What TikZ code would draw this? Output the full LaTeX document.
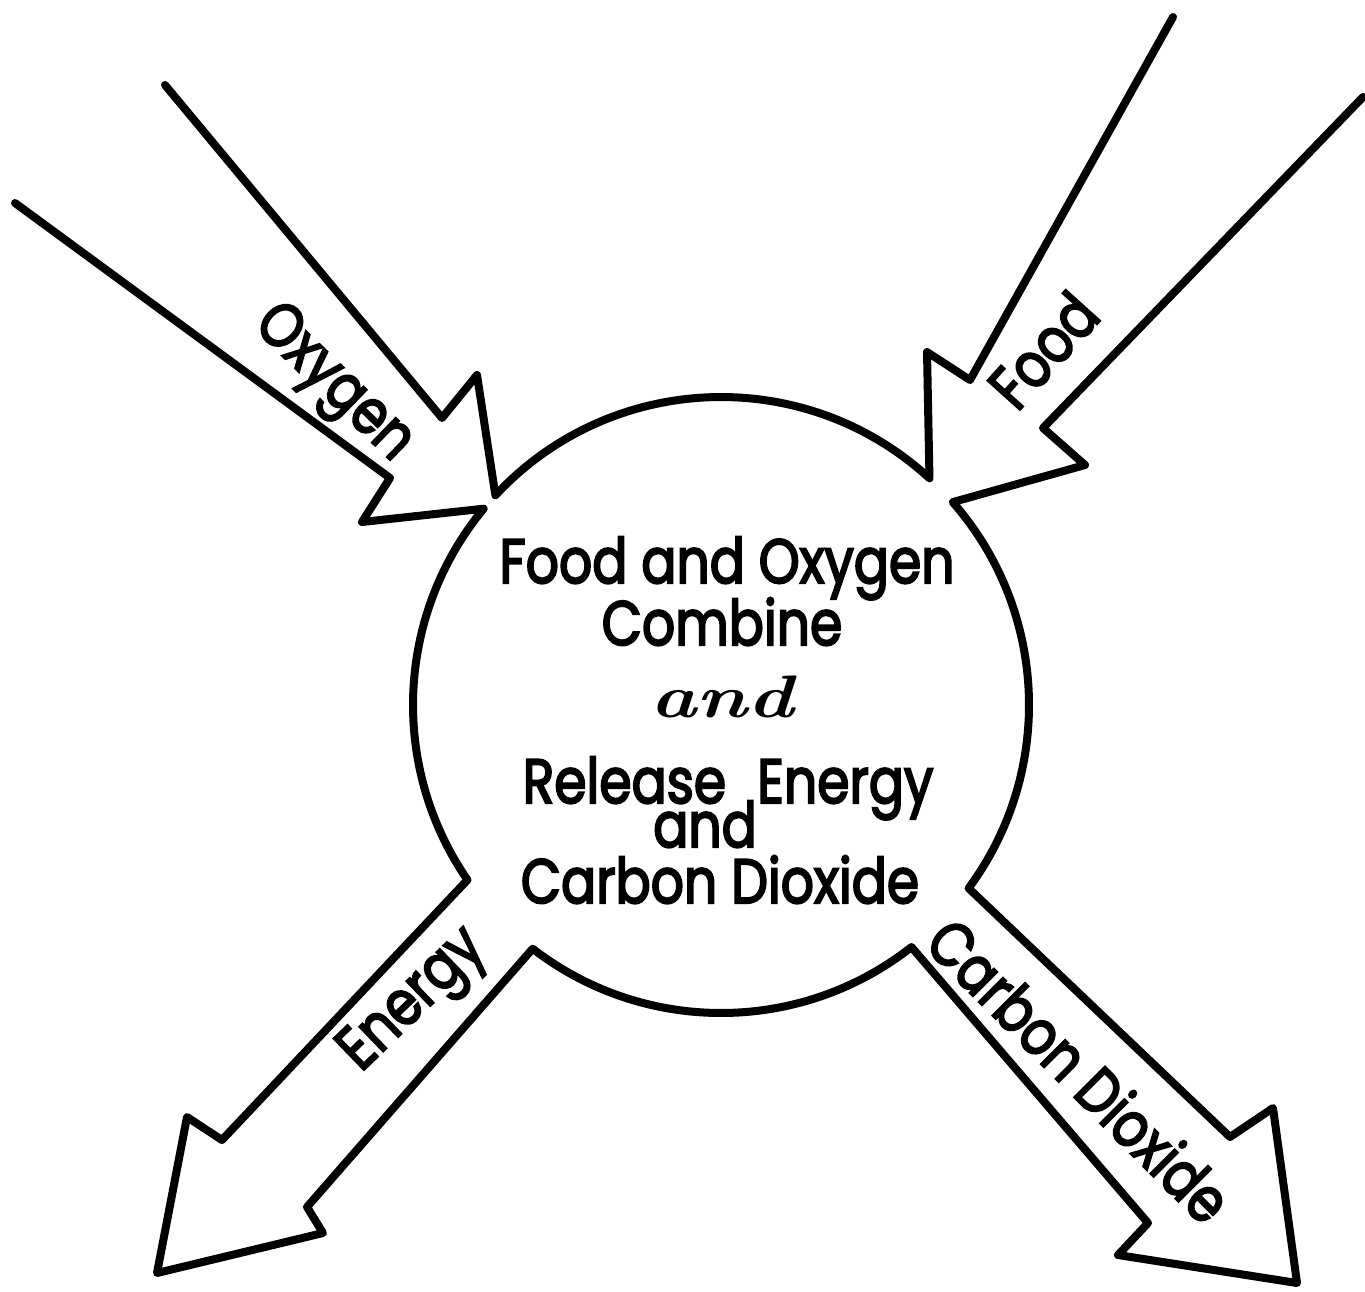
\documentclass[tikz,border=0pt]{standalone}
\usepackage{fontspec}
\usepackage{graphicx}
\usetikzlibrary{calc}
\newfontfamily\handfont{Poppins}[FakeBold=3.5]
\newcommand{\tallText}[1]{\scalebox{1}[1.2]{#1}}

\begin{document}
\begin{tikzpicture}
[x=0.5pt,y=-0.5pt,%
  outlineDecorate/.style={line width=4pt,line join=round,line cap=round},%
  textDecorate/.style={inner sep=0pt,font=\handfont\fontsize{26}{30}\selectfont},%
  scriptDecorate/.style={inner sep=0pt,font=\fontsize{30}{34}\selectfont\bfseries\itshape}]
\useasboundingbox (0,0) rectangle (1365,1291);
%% centre of the ring
\coordinate (ctr) at (721,705);
%% points where the arrows meet the ring
\foreach \pointname/\angle in {oxyTip/-137.1, oxyBase/-140.4, foodTip/-47.4, foodBase/-41.2,
  carbTop/36.5, carbBase/51.8, enBase/127.7, enTop/145.4}
{
  \coordinate (\pointname) at ($(ctr)+(\angle:308)$);
}
%% shaft ends, barbs and heads
\foreach \pointname/\x/\y in {oxyA/165/85, oxyB/442/418, oxyC/477/375,
  oxyD/15/203, oxyE/390/478, oxyF/362/522,
  foodA/1173/17, foodB/970/380, foodC/927/352,
  foodD/1363/97, foodE/1043/428, foodF/1085/465,
  carbB/1230/1137, carbC/1273/1108, carbHead/1297/1283, carbF/1118/1255, carbE/1148/1223,
  enE/307/1207, enF/323/1233, enHead/157/1273, enC/187/1117, enB/222/1140}
{
  \coordinate (\pointname) at (\x,\y);
}
%% outline
\draw[outlineDecorate] (oxyA) -- (oxyB) -- (oxyC) -- (oxyTip)
  arc[start angle=-137.1,end angle=-47.4,radius=308]
  -- (foodC) -- (foodB) -- (foodA);
\draw[outlineDecorate] (foodD) -- (foodE) -- (foodF) -- (foodBase)
  arc[start angle=-41.2,end angle=36.5,radius=308]
  -- (carbB) -- (carbC) -- (carbHead) -- (carbF) -- (carbE) -- (carbBase)
  arc[start angle=51.8,end angle=127.7,radius=308]
  -- (enE) -- (enF) -- (enHead) -- (enC) -- (enB) -- (enTop)
  arc[start angle=145.4,end angle=219.6,radius=308]
  -- (oxyF) -- (oxyE) -- (oxyD);
%% words in the ring
\foreach \nodename/\x/\y/\words in {lineOne/727/583/Food and Oxygen,
  lineTwo/722/645/Combine, lineFour/705/847/and, lineFive/720/903/Carbon Dioxide}
{
  \node (\nodename) at (\x,\y) [textDecorate,anchor=base] {\tallText{\words}};
}
\node (lineThree) at (728,803) [textDecorate,anchor=base] {\tallText{Release\hspace{0.6em}Energy}};
\node (lineJoin) at (722,717) [scriptDecorate,anchor=base] {\scalebox{1.3}[1]{\textbf{\textit{and}}}};
%% words on the arrows
\foreach \nodename/\x/\y/\angle/\words in {oxyLabel/332/385/-44/Oxygen,
  foodLabel/1043/350/48/Food, enLabel/415/1002/44/Energy,
  carbLabel/1080/1070/-45/Carbon Dioxide}
{
  \node (\nodename) at (\x,\y) [textDecorate,rotate=\angle] {\tallText{\words}};
}
\end{tikzpicture}
\end{document}
